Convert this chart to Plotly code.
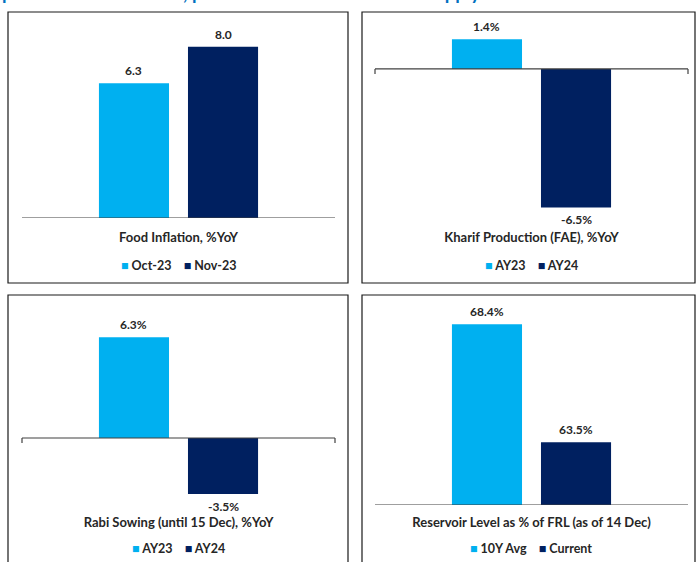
import plotly.graph_objects as go

# ---------------- data ----------------
panel_titles = [
    "Food Inflation, %YoY",
    "Kharif Production (FAE), %YoY",
    "Rabi Sowing (until 15 Dec), %YoY",
    "Reservoir Level as % of FRL (as of 14 Dec)",
]
series_a_names = ["Oct-23", "AY23", "AY23", "10Y Avg"]
series_b_names = ["Nov-23", "AY24", "AY24", "Current"]
series_a_values = [6.3, 1.4, 6.3, 68.4]
series_b_values = [8.0, -6.5, -3.5, 63.5]
value_suffix = ["", "%", "%", "%"]
page_title = "performance weakens, poses downside risk to food supply"

# ---------------- styling / layout ----------------
W, H = 697, 562
LIGHT = "#00B0F0"
DARK = "#002060"
FONT = "Lato"
TXT = "#262626"
BARGAP, BARGROUPGAP = 0.431, 0.213

def px_x(p):
    return p / W

def px_y(p):
    return 1 - p / H

# plot areas in pixel coords: (x0, x1, ytop, ybottom)
plot_boxes = [
    (22, 335, 14, 218),
    (375, 688, 14, 216),
    (22, 335, 300, 500),
    (375, 688, 300, 505),
]
y_ranges = [
    [0, 9.53],
    [-6.90, 2.58],
    [-3.875, 8.625],
    [60.9, 69.41],
]
label_rows = [228, 228, 513, 513]
legend_rows = [265, 265, 548, 548]
frames = [(8, 348, 12, 283), (362, 695, 12, 283), (8, 348, 295, 570), (362, 695, 295, 570)]

fig = go.Figure()
shapes = []
annotations = []
for i in range(4):
    k = "" if i == 0 else str(i + 1)
    xa, ya = "x" + k, "y" + k
    cat = [panel_titles[i]]
    x0, x1, yt, yb = plot_boxes[i]
    slot = (x1 - x0) * (1 - BARGAP) / 2  # pixel width of one series slot in the group
    for j, (name, val, col) in enumerate([
        (series_a_names[i], series_a_values[i], LIGHT),
        (series_b_names[i], series_b_values[i], DARK),
    ]):
        fig.add_trace(go.Bar(
            x=cat, y=[val], name=name, marker_color=col,
            marker_line_width=0, showlegend=False,
            xaxis=xa, yaxis=ya,
        ))
        annotations.append(dict(
            xref=xa, yref=ya, x=cat[0], y=val,
            text=("%.1f" % val) + value_suffix[i], showarrow=False,
            xshift=(j - 0.5) * slot,
            yanchor="bottom" if val >= 0 else "top",
            yshift=4 if val >= 0 else -4,
            borderpad=0,
            font=dict(family=FONT, size=12, color=TXT, weight="bold"),
        ))
    fig.update_layout(**{
        "xaxis" + k: dict(domain=[px_x(x0), px_x(x1)], anchor="free",
                          position=px_y(label_rows[i]), showline=False,
                          ticks="", showgrid=False, zeroline=False,
                          tickfont=dict(family=FONT, size=13, color=TXT, weight="bold"),
                          fixedrange=True),
        "yaxis" + k: dict(domain=[px_y(yb), px_y(yt)], anchor=xa, range=y_ranges[i],
                          visible=False, showgrid=False, zeroline=False, fixedrange=True),
    })
    # legend row (compact, Excel-like)
    legend_text = (
        "<span style='color:%s'>■</span> %s&nbsp;&nbsp;&nbsp;&nbsp;<span style='color:%s'>■</span> %s"
        % (LIGHT, series_a_names[i], DARK, series_b_names[i])
    )
    annotations.append(dict(
        xref="paper", yref="paper", x=(px_x(x0) + px_x(x1)) / 2, y=px_y(legend_rows[i]),
        xanchor="center", yanchor="middle", text=legend_text, showarrow=False,
        font=dict(family=FONT, size=12.5, color=TXT, weight="bold"),
    ))
    base = max(0, y_ranges[i][0])
    axref = xa + " domain"
    shapes.append(dict(type="line", xref=axref, yref=ya, x0=0, x1=1, y0=base, y1=base,
                       line=dict(color="#404040", width=1.2)))
    for xe in (0, 1):
        shapes.append(dict(type="line", xref=axref, yref=ya, ysizemode="pixel",
                           yanchor=base, x0=xe, x1=xe, y0=0, y1=-5,
                           line=dict(color="#404040", width=1.2)))
    fx0, fx1, fy0, fy1 = frames[i]
    shapes.append(dict(type="rect", xref="paper", yref="paper",
                       x0=px_x(fx0), x1=px_x(fx1), y0=px_y(fy1), y1=px_y(fy0),
                       line=dict(color="#1a1a1a", width=1.2), fillcolor="rgba(0,0,0,0)"))

annotations.append(dict(text=page_title, xref="paper", yref="paper", x=0, y=1,
                        xanchor="left", yanchor="bottom", yshift=-6, showarrow=False,
                        font=dict(family=FONT, size=18.5, color="#0070C0", weight="bold")))

fig.update_layout(
    width=W, height=H,
    margin=dict(l=0, r=0, t=0, b=0),
    paper_bgcolor="white", plot_bgcolor="white",
    barmode="group", bargap=BARGAP, bargroupgap=BARGROUPGAP,
    shapes=shapes,
    annotations=annotations,
)

fig.write_html("out.html", config={"displayModeBar": False},
               post_script="document.body.style.margin='0';document.body.style.overflow='hidden';")
